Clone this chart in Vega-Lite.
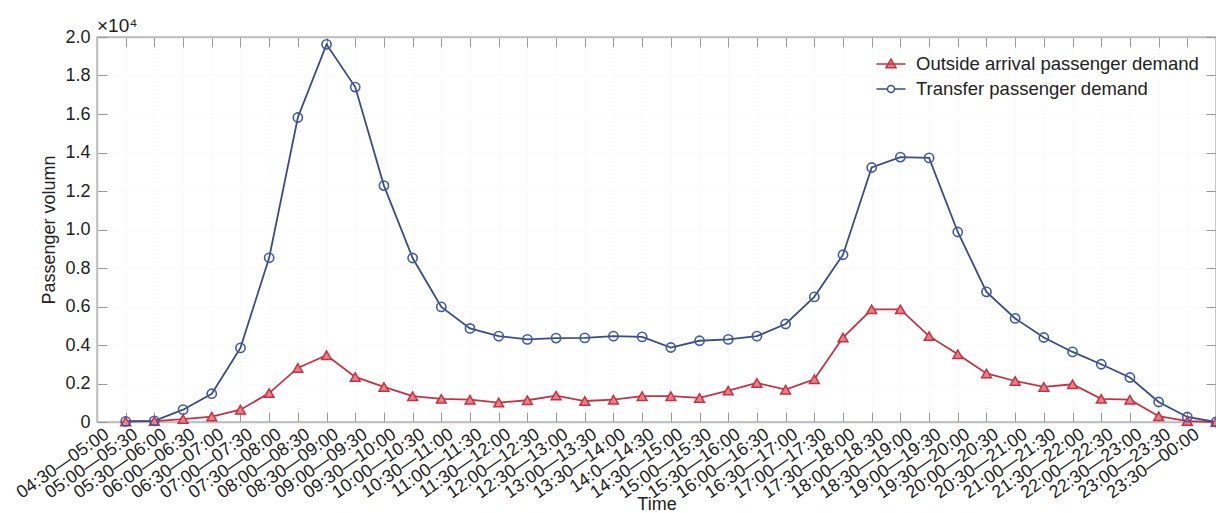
{
  "$schema": "https://vega.github.io/schema/vega-lite/v6.json",
  "width": 1119,
  "height": 385,
  "autosize": {"type": "none"},
  "padding": {"left": 97, "top": 37, "right": 0, "bottom": 91},
  "background": "white",
  "title": {"text": "×10⁴", "anchor": "start", "frame": "group", "fontSize": 19, "fontWeight": "normal", "font": "Liberation Sans", "color": "#222222", "offset": 0, "baseline": "alphabetic", "dy": 23},
  "config": {
    "font": "Liberation Sans",
    "view": {"stroke": "#bdbdbd", "strokeWidth": 1.5}
  },
  "data": {"values": [
    {"t": "04:30—05:00", "s": "Outside arrival passenger demand", "v": 30},
    {"t": "04:30—05:00", "s": "Transfer passenger demand", "v": 30},
    {"t": "05:00—05:30", "s": "Outside arrival passenger demand", "v": 50},
    {"t": "05:00—05:30", "s": "Transfer passenger demand", "v": 60},
    {"t": "05:30—06:00", "s": "Outside arrival passenger demand", "v": 150},
    {"t": "05:30—06:00", "s": "Transfer passenger demand", "v": 640},
    {"t": "06:00—06:30", "s": "Outside arrival passenger demand", "v": 280},
    {"t": "06:00—06:30", "s": "Transfer passenger demand", "v": 1470},
    {"t": "06:30—07:00", "s": "Outside arrival passenger demand", "v": 640},
    {"t": "06:30—07:00", "s": "Transfer passenger demand", "v": 3850},
    {"t": "07:00—07:30", "s": "Outside arrival passenger demand", "v": 1500},
    {"t": "07:00—07:30", "s": "Transfer passenger demand", "v": 8530},
    {"t": "07:30—08:00", "s": "Outside arrival passenger demand", "v": 2810},
    {"t": "07:30—08:00", "s": "Transfer passenger demand", "v": 15820},
    {"t": "08:00—08:30", "s": "Outside arrival passenger demand", "v": 3470},
    {"t": "08:00—08:30", "s": "Transfer passenger demand", "v": 19620},
    {"t": "08:30—09:00", "s": "Outside arrival passenger demand", "v": 2340},
    {"t": "08:30—09:00", "s": "Transfer passenger demand", "v": 17400},
    {"t": "09:00—09:30", "s": "Outside arrival passenger demand", "v": 1820},
    {"t": "09:00—09:30", "s": "Transfer passenger demand", "v": 12280},
    {"t": "09:30—10:00", "s": "Outside arrival passenger demand", "v": 1340},
    {"t": "09:30—10:00", "s": "Transfer passenger demand", "v": 8520},
    {"t": "10:00—10:30", "s": "Outside arrival passenger demand", "v": 1200},
    {"t": "10:00—10:30", "s": "Transfer passenger demand", "v": 5980},
    {"t": "10:30—11:00", "s": "Outside arrival passenger demand", "v": 1160},
    {"t": "10:30—11:00", "s": "Transfer passenger demand", "v": 4860},
    {"t": "11:00—11:30", "s": "Outside arrival passenger demand", "v": 1010},
    {"t": "11:00—11:30", "s": "Transfer passenger demand", "v": 4460},
    {"t": "11:30—12:00", "s": "Outside arrival passenger demand", "v": 1130},
    {"t": "11:30—12:00", "s": "Transfer passenger demand", "v": 4290},
    {"t": "12:00—12:30", "s": "Outside arrival passenger demand", "v": 1370},
    {"t": "12:00—12:30", "s": "Transfer passenger demand", "v": 4360},
    {"t": "12:30—13:00", "s": "Outside arrival passenger demand", "v": 1090},
    {"t": "12:30—13:00", "s": "Transfer passenger demand", "v": 4370},
    {"t": "13:00—13:30", "s": "Outside arrival passenger demand", "v": 1160},
    {"t": "13:00—13:30", "s": "Transfer passenger demand", "v": 4460},
    {"t": "13:30—14:00", "s": "Outside arrival passenger demand", "v": 1340},
    {"t": "13:30—14:00", "s": "Transfer passenger demand", "v": 4420},
    {"t": "14:0—14:30", "s": "Outside arrival passenger demand", "v": 1340},
    {"t": "14:0—14:30", "s": "Transfer passenger demand", "v": 3870},
    {"t": "14:30—15:00", "s": "Outside arrival passenger demand", "v": 1250},
    {"t": "14:30—15:00", "s": "Transfer passenger demand", "v": 4220},
    {"t": "15:00—15:30", "s": "Outside arrival passenger demand", "v": 1630},
    {"t": "15:00—15:30", "s": "Transfer passenger demand", "v": 4290},
    {"t": "15:30—16:00", "s": "Outside arrival passenger demand", "v": 2030},
    {"t": "15:30—16:00", "s": "Transfer passenger demand", "v": 4460},
    {"t": "16:00—16:30", "s": "Outside arrival passenger demand", "v": 1680},
    {"t": "16:00—16:30", "s": "Transfer passenger demand", "v": 5090},
    {"t": "16:30—17:00", "s": "Outside arrival passenger demand", "v": 2220},
    {"t": "16:30—17:00", "s": "Transfer passenger demand", "v": 6500},
    {"t": "17:00—17:30", "s": "Outside arrival passenger demand", "v": 4390},
    {"t": "17:00—17:30", "s": "Transfer passenger demand", "v": 8690},
    {"t": "17:30—18:00", "s": "Outside arrival passenger demand", "v": 5850},
    {"t": "17:30—18:00", "s": "Transfer passenger demand", "v": 13220},
    {"t": "18:00—18:30", "s": "Outside arrival passenger demand", "v": 5850},
    {"t": "18:00—18:30", "s": "Transfer passenger demand", "v": 13760},
    {"t": "18:30—19:00", "s": "Outside arrival passenger demand", "v": 4460},
    {"t": "18:30—19:00", "s": "Transfer passenger demand", "v": 13720},
    {"t": "19:00—19:30", "s": "Outside arrival passenger demand", "v": 3520},
    {"t": "19:00—19:30", "s": "Transfer passenger demand", "v": 9870},
    {"t": "19:30—20:00", "s": "Outside arrival passenger demand", "v": 2520},
    {"t": "19:30—20:00", "s": "Transfer passenger demand", "v": 6760},
    {"t": "20:00—20:30", "s": "Outside arrival passenger demand", "v": 2130},
    {"t": "20:00—20:30", "s": "Transfer passenger demand", "v": 5380},
    {"t": "20:30—21:00", "s": "Outside arrival passenger demand", "v": 1820},
    {"t": "20:30—21:00", "s": "Transfer passenger demand", "v": 4390},
    {"t": "21:00—21:30", "s": "Outside arrival passenger demand", "v": 1960},
    {"t": "21:00—21:30", "s": "Transfer passenger demand", "v": 3640},
    {"t": "21:30—22:00", "s": "Outside arrival passenger demand", "v": 1200},
    {"t": "21:30—22:00", "s": "Transfer passenger demand", "v": 3000},
    {"t": "22:00—22:30", "s": "Outside arrival passenger demand", "v": 1160},
    {"t": "22:00—22:30", "s": "Transfer passenger demand", "v": 2310},
    {"t": "22:30—23:00", "s": "Outside arrival passenger demand", "v": 300},
    {"t": "22:30—23:00", "s": "Transfer passenger demand", "v": 1040},
    {"t": "23:00—23:30", "s": "Outside arrival passenger demand", "v": 50},
    {"t": "23:00—23:30", "s": "Transfer passenger demand", "v": 260},
    {"t": "23:30—00:00", "s": "Outside arrival passenger demand", "v": 0},
    {"t": "23:30—00:00", "s": "Transfer passenger demand", "v": 0}
  ]},
  "encoding": {
    "x": {"field": "t", "type": "nominal", "sort": null, "scale": {"type": "point", "padding": 0.5, "align": 1}},
    "y": {"field": "v", "type": "quantitative", "scale": {"domain": [0, 20000], "nice": false}}
  },
  "layer": [
    {
      "mark": {"type": "line", "strokeWidth": 1.8},
      "encoding": {
        "x": {"field": "t", "type": "nominal", "sort": null, "title": "Time",
          "axis": {"orient": "bottom", "labelAngle": -35, "labelAlign": "right", "labelBaseline": "top", "labelOffset": -24, "labelPadding": 13,
            "labelFontSize": 18, "labelColor": "#222222", "labelOverlap": false, "labelBound": false, "labelFlush": false,
            "tickSize": -10, "tickColor": "#999999", "tickWidth": 1, "domainColor": "#bdbdbd", "domainWidth": 1.5,
            "grid": true, "gridColor": "#eeeeee", "gridDash": [1, 3],
            "titleFontSize": 18, "titleFontWeight": "normal", "titleColor": "#222222", "titleY": 87, "titleBaseline": "alphabetic"}},
        "y": {"field": "v", "type": "quantitative", "title": "Passenger volumn",
          "axis": {"orient": "left", "values": [0, 2000, 4000, 6000, 8000, 10000, 12000, 14000, 16000, 18000, 20000],
            "labelExpr": "datum.value == 0 ? '0' : format(datum.value / 10000, '.1f')",
            "labelFontSize": 18, "labelColor": "#222222", "labelPadding": 17,
            "tickSize": -10, "tickColor": "#999999", "tickWidth": 1, "domainColor": "#bdbdbd", "domainWidth": 1.5,
            "grid": true, "gridColor": "#eeeeee", "gridDash": [1, 3],
            "titleFontSize": 18, "titleFontWeight": "normal", "titleColor": "#222222", "titlePadding": 6}},
        "color": {"field": "s", "type": "nominal",
          "scale": {"domain": ["Outside arrival passenger demand", "Transfer passenger demand"], "range": ["#c23345", "#3b4c84"]},
          "legend": {"orient": "none", "legendX": 783, "legendY": 16, "title": null, "padding": 0, "labelLimit": 500,
            "symbolSize": 400, "labelOffset": 14, "rowPadding": 4, "labelFontSize": 18.5, "labelColor": "#222222", "symbolStrokeWidth": 1.5,
            "encode": {"symbols": {"update": {
              "shape": {"signal": "datum.value === 'Outside arrival passenger demand' ? 'M-1.45,0H1.45M0,-0.5L0.5,0.38L-0.5,0.38Z' : 'M-1.45,0H-0.35M0.35,0H1.45M0.35,0A0.35,0.35,0,1,1,-0.35,0A0.35,0.35,0,1,1,0.35,0Z'"},
              "fill": {"signal": "datum.value === 'Outside arrival passenger demand' ? '#e07d8a' : 'transparent'"}
            }}}}}
      }
    },
    {
      "transform": [{"filter": "datum.s === 'Outside arrival passenger demand'"}],
      "mark": {"type": "point", "shape": "triangle-up", "filled": true, "fill": "#e8808c", "stroke": "#c8303f", "strokeWidth": 1.5, "size": 95, "opacity": 1},
      "encoding": {
        "x": {"field": "t", "type": "nominal", "sort": null, "axis": {"orient": "top", "labels": false, "title": null, "tickSize": -10, "tickColor": "#999999", "domainColor": "#bdbdbd", "domainWidth": 1.5}},
        "y": {"field": "v", "type": "quantitative", "axis": {"orient": "right", "labels": false, "title": null, "values": [0, 2000, 4000, 6000, 8000, 10000, 12000, 14000, 16000, 18000, 20000], "tickSize": -10, "tickColor": "#999999", "domainColor": "#bdbdbd", "domainWidth": 1.5}}
      }
    },
    {
      "transform": [{"filter": "datum.s === 'Transfer passenger demand'"}],
      "mark": {"type": "point", "shape": "circle", "filled": false, "stroke": "#3f5aa8", "strokeWidth": 1.6, "size": 85, "opacity": 1},
      "encoding": {
        "x": {"field": "t", "type": "nominal", "sort": null, "axis": null},
        "y": {"field": "v", "type": "quantitative", "axis": null}
      }
    }
  ],
  "resolve": {"axis": {"x": "independent", "y": "independent"}}
}
